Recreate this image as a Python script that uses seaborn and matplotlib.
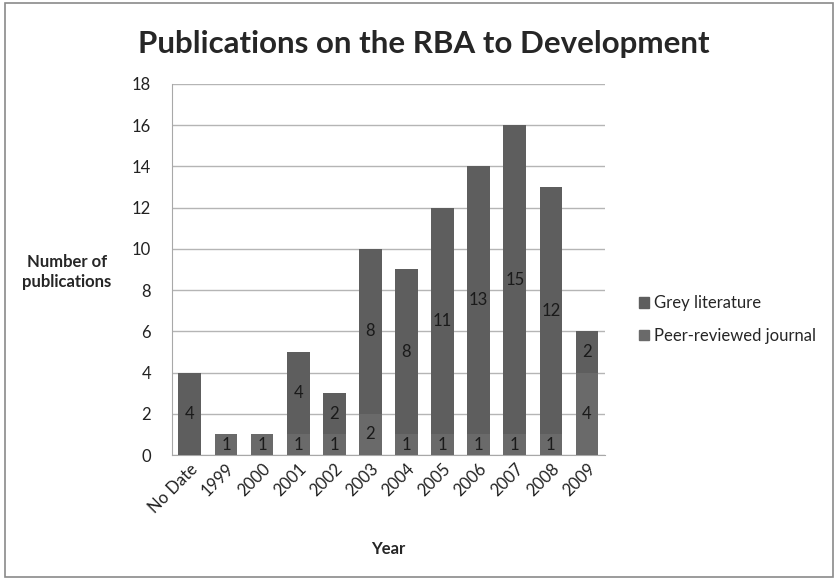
import matplotlib
matplotlib.use("Agg")
import matplotlib.pyplot as plt
from matplotlib.patches import Rectangle, Patch
import seaborn as sns
import pandas as pd

# datos
years = ["No Date", "1999", "2000", "2001", "2002", "2003", "2004",
         "2005", "2006", "2007", "2008", "2009"]
peer_reviewed = [0, 1, 1, 1, 1, 2, 1, 1, 1, 1, 1, 4]
grey_literature = [4, 0, 0, 4, 2, 8, 8, 11, 13, 15, 12, 2]

grey_color = "#5e5e5e"
peer_color = "#6a6a6a"

df = pd.DataFrame({"Year": years, "Peer": peer_reviewed, "Grey": grey_literature})

sns.set_style("white")
plt.rcParams["font.family"] = ["Lato", "DejaVu Sans"]

fig = plt.figure(figsize=(8.38, 5.8), dpi=100)
ax = fig.add_axes([0.205, 0.2155, 0.517, 0.64])

# barras inferiores (peer-reviewed)
sns.barplot(data=df, x="Year", y="Peer", color=peer_color, width=0.63,
            saturation=1, linewidth=0, ax=ax, zorder=3)
# barras superiores (grey literature), apiladas sobre peer-reviewed
sns.barplot(data=df, x="Year", y="Grey", color=grey_color, width=0.63,
            saturation=1, linewidth=0, ax=ax, zorder=3)
top = ax.containers[1]
for patch, bottom in zip(top.patches, df["Peer"]):
    patch.set_y(bottom)

for cont, vals in zip(ax.containers, [df["Peer"], df["Grey"]]):
    labels = [str(v) if v > 0 else "" for v in vals]
    ax.bar_label(cont, labels=labels, label_type="center", fontsize=12, color="#1a1a1a")

ax.set_ylim(0, 18)
ax.set_yticks(range(0, 19, 2))
ax.set_xlim(-0.5, len(years) - 0.5)
ax.yaxis.grid(True, color="#b5b5b5", linewidth=1, zorder=0)
ax.set_axisbelow(True)
for s in ["top", "right"]:
    ax.spines[s].set_visible(False)
ax.spines["left"].set_color("#a8a8a8")
ax.spines["bottom"].set_color("#a8a8a8")
ax.tick_params(axis="both", labelsize=12, colors="#222222", length=0)
ax.tick_params(axis="y", pad=15)
ax.tick_params(axis="x", pad=4)
plt.setp(ax.get_xticklabels(), rotation=45, ha="right", rotation_mode="anchor")

ax.set_xlabel("Year", fontsize=12, fontweight="bold", labelpad=18)
ax.set_ylabel("")
fig.text(0.08, 0.531, "Number of\npublications", ha="center", va="center",
         fontsize=12, fontweight="bold", linespacing=1.3)
fig.text(0.506, 0.925, "Publications on the RBA to Development", ha="center",
         va="center", fontsize=22.5, fontweight="bold")

handles = [Patch(color=grey_color, label="Grey literature"),
           Patch(color=peer_color, label="Peer-reviewed journal")]
fig.legend(handles=handles, loc="center left", bbox_to_anchor=(0.745, 0.449),
           frameon=False, fontsize=12, handlelength=0.6, handleheight=0.6,
           handletextpad=0.3, labelspacing=1.0)

# marco exterior
fig.patches.append(Rectangle((0.006, 0.005), 0.988, 0.99, transform=fig.transFigure,
                             fill=False, edgecolor="#8a8a8a", linewidth=1.2))

plt.savefig("out.png", dpi=100)
plt.close()
